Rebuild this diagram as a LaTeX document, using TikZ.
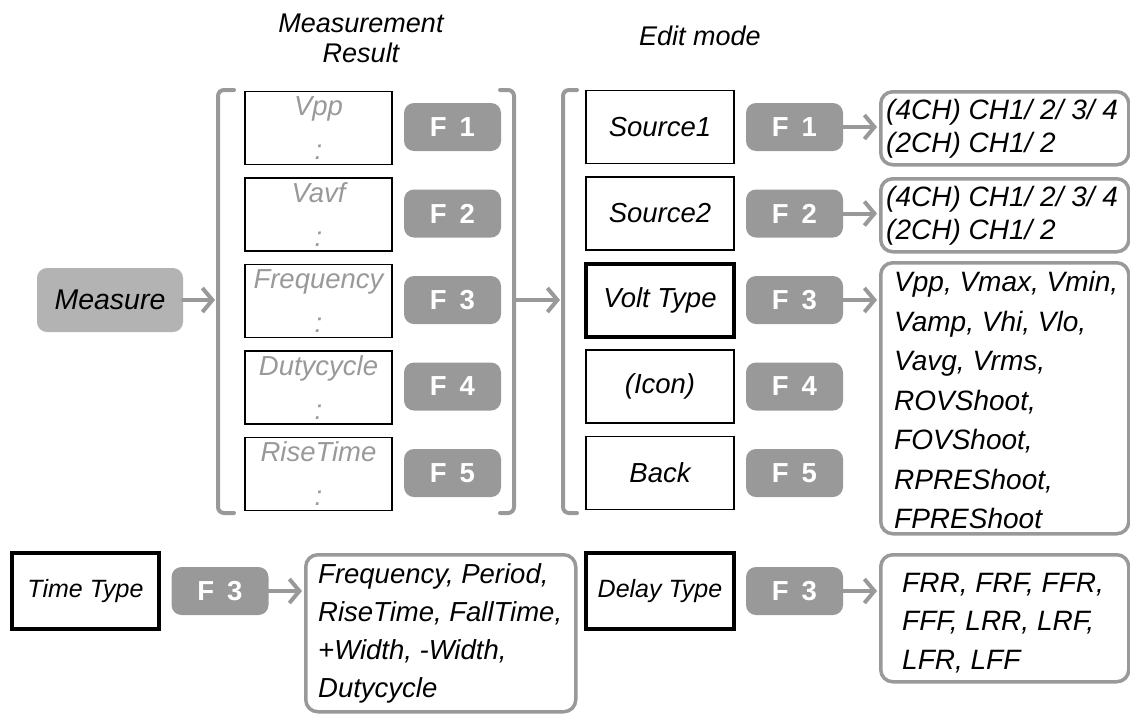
\documentclass[tikz,border=0pt]{standalone}
\usepackage{fontspec}
\setmainfont{Liberation Sans}
\usetikzlibrary{arrows.meta}
\definecolor{fgray}{HTML}{999999}
\definecolor{mgray}{HTML}{B3B3B3}
\begin{document}
\begin{tikzpicture}[x=1pt,y=-1pt,
  hdr/.style={font=\fontsize{27}{30}\selectfont\itshape, inner sep=0pt, align=center},
  resbox/.style={draw=black, line width=1.5pt, minimum width=147pt, minimum height=73pt, inner sep=0pt, align=center, text=fgray, font=\fontsize{27.5}{44}\selectfont\itshape},
  editbox/.style={draw=black, line width=1.5pt, minimum width=148pt, minimum height=73pt, inner sep=0pt, font=\fontsize{27.5}{32}\selectfont\itshape},
  selbox/.style={editbox, line width=4pt},
  fbtn/.style={fill=fgray, rounded corners=10pt, minimum width=97pt, minimum height=48pt, inner sep=0pt, text=white, font=\fontsize{27.5}{27.5}\selectfont\bfseries},
  optbox/.style={draw=fgray, line width=3.5pt, rounded corners=12pt, inner sep=0pt, anchor=north west},
  opttext/.style={align=left, inner sep=0pt, anchor=west},
  arr/.style={draw=fgray, line width=4pt, line cap=round, -{Straight Barb[length=10pt,width=24pt]}},
  brk/.style={draw=fgray, line width=4pt, line cap=round, rounded corners=6pt}
]
\useasboundingbox (0,0) rectangle (1130,713);

% headers
\node[hdr] (hres) at (361,38) {Measurement\\Result};
\node[hdr] (hedit) at (700,36) {Edit mode};

% Measure
\node[fill=mgray, rounded corners=10pt, minimum width=146pt, minimum height=64pt, inner sep=0pt,
      font=\fontsize{28.5}{28.5}\selectfont\itshape] (meas) at (110,300) {Measure};

% brackets
\coordinate (lbt) at (234,90); \coordinate (lbtc) at (218,90);
\coordinate (lbbc) at (218,513); \coordinate (lbb) at (234,513);
\coordinate (lbm) at (218,300);
\draw[brk] (lbt) -- (lbtc) -- (lbbc) -- (lbb);
\coordinate (rbt) at (500,90); \coordinate (rbtc) at (514,90);
\coordinate (rbbc) at (514,513); \coordinate (rbb) at (500,513);
\coordinate (rbm) at (514,300);
\draw[brk] (rbt) -- (rbtc) -- (rbbc) -- (rbb);
\coordinate (ebt) at (577,90); \coordinate (ebtc) at (563,90);
\coordinate (ebbc) at (563,513); \coordinate (ebb) at (577,513);
\coordinate (ebm) at (563,300);
\draw[brk] (ebt) -- (ebtc) -- (ebbc) -- (ebb);

\draw[arr] (meas.east) -- ([xshift=-3pt]lbm);
\draw[arr] (rbm) -- ([xshift=-3pt]ebm);

% measurement result boxes
\node[resbox] (r1) at (318.5,128)   {Vpp\\:};
\node[resbox] (r2) at (318.5,214.5) {Vavf\\:};
\node[resbox] (r3) at (318.5,301)   {Frequency\\:};
\node[resbox] (r4) at (318.5,387.5) {Dutycycle\\:};
\node[resbox] (r5) at (318.5,474)   {RiseTime\\:};

\node[fbtn] (rf1) at (452.5,127)   {F\hspace{13pt}1};
\node[fbtn] (rf2) at (452.5,213.5) {F\hspace{13pt}2};
\node[fbtn] (rf3) at (452.5,300)   {F\hspace{13pt}3};
\node[fbtn] (rf4) at (452.5,386.5) {F\hspace{13pt}4};
\node[fbtn] (rf5) at (452.5,473)   {F\hspace{13pt}5};

% edit mode boxes
\node[editbox] (e1) at (660,127)   {Source1};
\node[editbox] (e2) at (660,213.5) {Source2};
\node[selbox]  (e3) at (660,300)   {Volt Type};
\node[editbox] (e4) at (660,386.5) {(Icon)};
\node[editbox] (e5) at (660,473)   {Back};

\node[fbtn] (ef1) at (794.5,127)   {F\hspace{13pt}1};
\node[fbtn] (ef2) at (794.5,213.5) {F\hspace{13pt}2};
\node[fbtn] (ef3) at (794.5,300)   {F\hspace{13pt}3};
\node[fbtn] (ef4) at (794.5,386.5) {F\hspace{13pt}4};
\node[fbtn] (ef5) at (794.5,473)   {F\hspace{13pt}5};

% option boxes
\node[optbox, minimum width=248pt, minimum height=73pt] (o1) at (879,90) {};
\node[opttext, font=\fontsize{28}{33}\selectfont\itshape] (o1t) at ([xshift=7pt]o1.west) {(4CH) CH1/ 2/ 3/ 4\\(2CH) CH1/ 2};
\node[optbox, minimum width=248pt, minimum height=73pt] (o2) at (879,177) {};
\node[opttext, font=\fontsize{28}{33}\selectfont\itshape] (o2t) at ([xshift=7pt]o2.west) {(4CH) CH1/ 2/ 3/ 4\\(2CH) CH1/ 2};
\node[optbox, minimum width=248pt, minimum height=271pt] (o3) at (879,261) {};
\node[opttext, font=\fontsize{28}{39.5}\selectfont\itshape] (o3t) at ([xshift=15pt,yshift=-2pt]o3.west)
  {Vpp, Vmax, Vmin,\\Vamp, Vhi, Vlo,\\Vavg, Vrms,\\ROVShoot,\\FOVShoot,\\RPREShoot,\\FPREShoot};

\draw[arr] (ef1.east) -- ([xshift=-2pt]ef1.east -| o1.west);
\draw[arr] (ef2.east) -- ([xshift=-2pt]ef2.east -| o2.west);
\draw[arr] (ef3.east) -- ([xshift=-2pt]ef3.east -| o3.west);

% bottom row: time type
\node[draw=black, line width=4pt, minimum width=147pt, minimum height=76pt, inner sep=0pt,
      font=\fontsize{25}{30}\selectfont\itshape] (tt) at (85.5,591) {Time Type};
\node[fbtn] (tf3) at (220,591) {F\hspace{13pt}3};
\node[optbox, minimum width=270pt, minimum height=157pt] (to) at (304,553) {};
\node[opttext, font=\fontsize{27.5}{38}\selectfont\itshape] (tot) at ([xshift=14pt]to.west)
  {Frequency, Period,\\RiseTime, FallTime,\\+Width, -Width,\\Dutycycle};
\draw[arr] (tf3.east) -- ([xshift=-2pt]tf3.east -| to.west);

% bottom row: delay type
\node[draw=black, line width=4pt, minimum width=148pt, minimum height=76pt, inner sep=0pt,
      font=\fontsize{25}{30}\selectfont\itshape] (dt) at (660,591) {Delay Type};
\node[fbtn] (df3) at (794.5,591) {F\hspace{13pt}3};
\node[optbox, minimum width=248pt, minimum height=127pt] (do) at (879,553) {};
\node[opttext, font=\fontsize{28}{38.5}\selectfont\itshape] (dot) at (902,623)
  {FRR, FRF, FFR,\\FFF, LRR, LRF,\\LFR, LFF};
\draw[arr] (df3.east) -- ([xshift=-2pt]df3.east -| do.west);
\end{tikzpicture}
\end{document}
